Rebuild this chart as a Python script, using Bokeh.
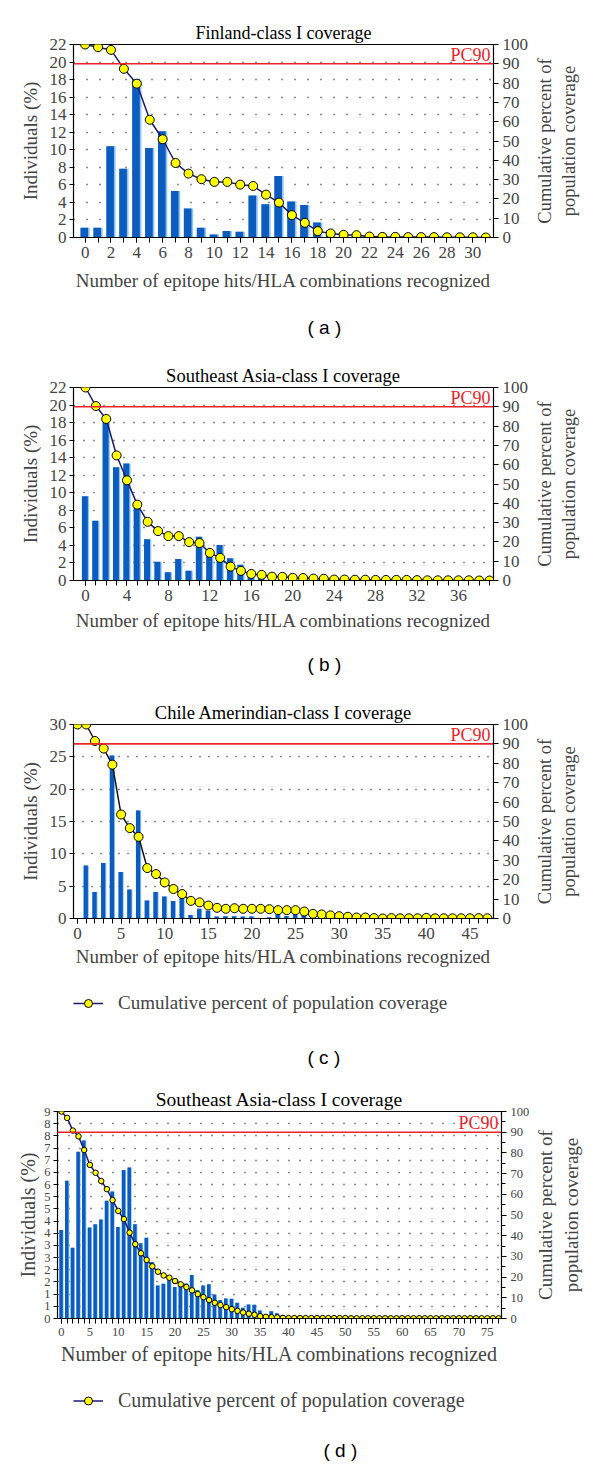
from bokeh.plotting import figure
from bokeh.models import (Range1d, LinearAxis, FixedTicker, Span, Label, Title,
                          Legend, LegendItem, CustomJSTickFormatter)
from bokeh.layouts import column, row
from bokeh.embed import file_html
from bokeh.resources import INLINE

SERIF = "Liberation Serif"
SANS = "Liberation Sans"
BAR_DARK = "#0B5CBE"
BAR_LIGHT = "#8EC5F5"
PC_RED = "#E8242B"
NAVY = "#1B1B6E"
X_LABEL = "Number of epitope hits/HLA combinations recognized"
Y_LABEL = "Individuals (%)"
Y2_LABEL = "Cumulative percent of\npopulation coverage"
LEGEND_LABEL = "Cumulative percent of population coverage"

# ---------------- (a) Finland ----------------
a_title = "Finland-class I coverage"
a_hits = list(range(32))
a_individuals = [1.1, 1.1, 10.4, 7.85, 18.0, 10.2, 12.1, 5.3, 3.3, 1.1,
                 0.35, 0.75, 0.65, 4.8, 3.8, 7.0, 4.1, 3.7, 1.7, 0.8,
                 0.2, 0.12, 0.08, 0.05, 0.05, 0.03, 0.03, 0.02, 0.02, 0.02,
                 0.01, 0.01]
a_cumulative = [100, 98.6, 97.2, 87.4, 79.7, 61.0, 50.9, 38.6, 33.1, 30.2,
                28.8, 28.8, 27.4, 26.7, 22.2, 18.1, 11.6, 7.6, 3.3, 2.1,
                1.4, 1.2, 0.5, 0.3, 0.3, 0.2, 0.2, 0.2, 0.1, 0.1,
                0.1, 0.0]
a_xticks = list(range(0, 31, 2))
a_yticks = list(range(0, 23, 2))

# ---------------- (b) Southeast Asia ----------------
b_title = "Southeast Asia-class I coverage"
b_hits = list(range(40))
b_individuals = [9.6, 6.8, 18.3, 12.9, 13.35, 8.3, 4.7, 2.15, 0.95, 2.45,
                 1.1, 5.0, 2.85, 4.05, 2.55, 1.8, 0.95, 0.55, 0.35, 0.3,
                 0.25, 0.2, 0.15, 0.1, 0.1, 0.1, 0.05, 0.05, 0.05, 0.05,
                 0.03, 0.03, 0.03, 0.02, 0.02, 0.02, 0.01, 0.01, 0.01, 0.01]
b_cumulative = [100, 90.4, 83.7, 64.8, 51.9, 39.3, 30.4, 25.6, 23.0, 23.0,
                19.9, 19.4, 14.3, 11.7, 7.2, 5.0, 3.4, 2.9, 2.0, 1.9,
                1.4, 1.3, 1.0, 0.9, 0.5, 0.5, 0.4, 0.4, 0.3, 0.3,
                0.3, 0.3, 0.2, 0.1, 0.1, 0.1, 0.1, 0.1, 0.0, 0.0]
b_xticks = list(range(0, 37, 4))
b_yticks = list(range(0, 23, 2))

# ---------------- (c) Chile Amerindian ----------------
c_title = "Chile Amerindian-class I coverage"
c_hits = list(range(48))
c_individuals = [0, 8.2, 4.1, 8.6, 25.2, 7.2, 4.5, 16.7, 2.8, 4.1,
                 3.4, 2.7, 3.6, 0.55, 1.5, 1.2, 0.3, 0.35, 0.35, 0.3,
                 0.3, 0.05, 0.2, 0.6, 0.4, 0.6, 1.0, 0.6, 0.3, 0.2,
                 0.15, 0.1, 0.1, 0.05, 0.05, 0.05, 0.03, 0.03, 0.03, 0.03,
                 0.02, 0.02, 0.02, 0.02, 0.02, 0.02, 0.02, 0.02]
c_cumulative = [100, 100, 91.5, 87.6, 79.3, 53.6, 46.6, 42.1, 26.0, 22.9,
                18.6, 15.2, 12.6, 9.1, 8.3, 6.7, 5.5, 5.0, 5.3, 5.0,
                5.0, 5.0, 4.8, 4.3, 4.3, 4.3, 3.6, 2.4, 2.1, 1.6,
                1.2, 0.9, 0.5, 0.5, 0.2, 0.0, 0.2, 0.1, 0.1, 0.1,
                0.3, 0.1, 0.1, 0.1, 0.1, 0.1, 0.2, 0.1]
c_xticks = list(range(0, 46, 5))
c_yticks = list(range(0, 31, 5))

# ---------------- (d) Southeast Asia ----------------
d_title = "Southeast Asia-class I coverage"
d_hits = list(range(78))
d_individuals = [3.63, 5.66, 2.91, 6.85, 7.31, 3.74, 3.87, 4.07, 4.84, 5.22,
                 3.76, 6.1, 6.2, 3.87, 3.09, 3.32, 2.32, 1.36, 1.43, 1.57,
                 1.29, 1.47, 1.44, 1.79, 1.17, 1.36, 1.41, 0.99, 0.76, 0.82,
                 0.81, 0.65, 0.44, 0.58, 0.56, 0.33, 0.16, 0.30, 0.22, 0.14,
                 0.08, 0.10, 0.05, 0.04, 0.04, 0.03, 0.03, 0.03, 0.02, 0.02,
                 0.02, 0.02, 0.02, 0.02, 0.01, 0.01, 0.01, 0.01, 0.01, 0.01,
                 0.01, 0.01, 0.01, 0.01, 0.01, 0.01, 0.01, 0.01, 0.01, 0.01,
                 0.01, 0.01, 0.01, 0.01, 0.01, 0.01, 0.01, 0.01]
d_cumulative = [100, 96.9, 90.8, 88.0, 81.4, 74.2, 70.4, 66.4, 62.5, 57.2,
                52.0, 48.0, 41.5, 35.9, 31.5, 28.3, 25.2, 22.6, 20.8, 19.7,
                18.1, 16.5, 15.2, 13.6, 11.8, 10.3, 8.9, 7.6, 6.5, 5.5,
                4.5, 3.7, 2.9, 2.3, 1.8, 1.1, 0.8, 0.6, 0.5, 0.3,
                0.2, 0.2, 0.2, 0.2, 0.2, 0.2, 0.2, 0.2, 0.2, 0.2,
                0.2, 0.1, 0.1, 0.1, 0.1, 0.1, 0.1, 0.1, 0.1, 0.1,
                0.1, 0.1, 0.1, 0.1, 0.1, 0.1, 0.1, 0.1, 0.1, 0.1,
                0.1, 0.1, 0.1, 0.1, 0.1, 0.1, 0.1, 0.1]
d_xticks = list(range(0, 76, 5))
d_yticks = [i * 0.5 for i in range(18)]

right_ticks = list(range(0, 101, 10))


def caption_title(text, offset, standoff):
    return Title(text=text, align="left", offset=offset, vertical_align="bottom",
                 standoff=standoff, text_font=SANS, text_font_size="19px",
                 text_font_style="normal", text_color="black")


def build(hits, indiv, cum, title, x_start, x_end, y_max, y_ticks, x_ticks,
          frame_w, frame_h, b_left, b_right, b_top, b_bottom,
          tick_fs, label_fs, title_fs, pc_fs, marker, bar_w,
          line_color, dash, caption=None, cap_offset=0, cap_standoff=10,
          round_left=False, right_minor=False, title_standoff=4, xlabel_standoff=9,
          ylabel_standoff=6):
    p = figure(frame_width=frame_w, frame_height=frame_h,
               x_range=Range1d(x_start, x_end), y_range=Range1d(0, y_max),
               min_border_left=b_left, min_border_right=b_right,
               min_border_top=b_top, min_border_bottom=b_bottom,
               output_backend="svg", toolbar_location=None)
    p.extra_y_ranges = {"right": Range1d(0, 100)}
    p.background_fill_color = "white"
    p.border_fill_color = "white"
    p.outline_line_color = "black"
    p.outline_line_width = 1.2

    p.title.text = title
    p.title.align = "center"
    p.title.text_font = SERIF
    p.title.text_font_style = "normal"
    p.title.text_font_size = title_fs
    p.title.text_color = "black"
    p.title.standoff = title_standoff

    p.xgrid.visible = False
    yt = FixedTicker(ticks=y_ticks)
    p.ygrid.ticker = yt
    p.ygrid.grid_line_color = "black"
    p.ygrid.grid_line_dash = dash
    p.ygrid.grid_line_width = 1.6
    p.ygrid.grid_line_alpha = 0.9

    ly = p.yaxis[0]
    ly.ticker = yt
    ly.axis_label = Y_LABEL
    ly.axis_label_text_font = SERIF
    ly.axis_label_text_font_style = "normal"
    ly.axis_label_text_font_size = label_fs
    ly.major_label_text_font = SERIF
    ly.major_label_text_font_size = tick_fs
    ly.major_tick_in = 0
    ly.major_tick_out = 4
    ly.minor_tick_line_color = None
    ly.axis_label_standoff = ylabel_standoff
    ly.major_label_standoff = 3
    ly.axis_line_color = "black"
    if round_left:
        ly.formatter = CustomJSTickFormatter(code="return String(Math.round(tick));")

    bx = p.xaxis[0]
    bx.ticker = FixedTicker(ticks=x_ticks, minor_ticks=hits)
    bx.axis_label = X_LABEL
    bx.axis_label_text_font = SERIF
    bx.axis_label_text_font_style = "normal"
    bx.axis_label_text_font_size = label_fs
    bx.major_label_text_font = SERIF
    bx.major_label_text_font_size = tick_fs
    bx.major_tick_in = 0
    bx.major_tick_out = 5
    bx.minor_tick_in = 0
    bx.minor_tick_out = 5
    bx.major_label_standoff = 4
    bx.axis_label_standoff = xlabel_standoff
    bx.axis_line_color = "black"

    rt = FixedTicker(ticks=right_ticks,
                     minor_ticks=list(range(0, 101, 5)) if right_minor else [])
    ry = LinearAxis(y_range_name="right", ticker=rt)
    ry.major_label_text_font = SERIF
    ry.major_label_text_font_size = tick_fs
    ry.major_tick_in = 0
    ry.major_tick_out = 5
    ry.minor_tick_in = 0
    ry.minor_tick_out = 4
    ry.major_label_standoff = 4
    p.add_layout(ry, "right")

    p.vbar(x=hits, top=indiv, width=bar_w, fill_color=BAR_LIGHT, line_color=None)
    p.vbar(x=[h - bar_w * 0.09 for h in hits], top=indiv, width=bar_w * 0.82,
           fill_color=BAR_DARK, line_color=None)

    p.add_layout(Span(location=90, dimension="width", y_range_name="right",
                      line_color=PC_RED, line_width=1.6))
    p.add_layout(Label(x=x_end, y=90, y_range_name="right", text="PC90",
                       text_align="right", text_baseline="bottom", x_offset=-3,
                       y_offset=-1, text_color=PC_RED, text_font=SERIF,
                       text_font_size=pc_fs))

    p.line(hits, cum, y_range_name="right", line_color=line_color, line_width=1.5)
    p.scatter(hits, cum, y_range_name="right", size=marker, fill_color="#FFFF00",
              line_color="black", line_width=1)

    if caption is not None:
        p.add_layout(caption_title(caption, cap_offset, cap_standoff), "below")
    return p


def side(frame_h, b_top, b_bottom, b_left, width, fs):
    """Narrow strip carrying the right-hand axis title (reads bottom to top)."""
    s = figure(frame_width=1, frame_height=frame_h,
               x_range=Range1d(0, 1), y_range=Range1d(0, 1),
               min_border_left=b_left, min_border_right=width - b_left - 1,
               min_border_top=b_top, min_border_bottom=b_bottom,
               x_axis_location=None, output_backend="svg", toolbar_location=None)
    s.outline_line_color = None
    s.grid.visible = False
    ax = s.yaxis[0]
    ax.ticker = FixedTicker(ticks=[0.5])
    ax.formatter = CustomJSTickFormatter(code="return ''")
    ax.major_tick_line_color = None
    ax.minor_tick_line_color = None
    ax.major_tick_out = 0
    ax.major_tick_in = 0
    ax.minor_tick_out = 0
    ax.minor_tick_in = 0
    ax.major_label_standoff = 0
    ax.axis_line_color = None
    ax.axis_label = Y2_LABEL
    ax.axis_label_standoff = 0
    ax.axis_label_text_font = SERIF
    ax.axis_label_text_font_style = "normal"
    ax.axis_label_text_font_size = fs
    return s


def legend_strip(hits, cum, frame_w, b_left, b_right, frame_h, line_color, marker, fs,
                 caption, cap_offset, cap_standoff, b_bottom):
    # the series is drawn outside the visible range; only its legend entry shows
    lf = figure(frame_width=frame_w, frame_height=frame_h,
                x_range=Range1d(-1000, -999), y_range=Range1d(-1000, -999),
                min_border_left=b_left, min_border_right=b_right,
                min_border_top=0, min_border_bottom=b_bottom,
                x_axis_location=None, y_axis_location=None,
                output_backend="svg", toolbar_location=None)
    lf.outline_line_color = None
    lf.grid.visible = False
    ln = lf.line(hits, cum, line_color=line_color, line_width=1.5)
    sc = lf.scatter(hits, cum, size=marker, fill_color="#FFFF00",
                    line_color="black", line_width=1)
    lg = Legend(items=[LegendItem(label=LEGEND_LABEL, renderers=[ln, sc])],
                location="center_left", orientation="horizontal",
                border_line_color=None, background_fill_alpha=0,
                label_text_font=SERIF, label_text_font_size=fs,
                glyph_width=30, glyph_height=20, label_height=20,
                label_standoff=15, padding=0, margin=0, spacing=0)
    lf.add_layout(lg)
    lf.add_layout(caption_title(caption, cap_offset, cap_standoff), "below")
    return lf


pa = build(a_hits, a_individuals, a_cumulative, a_title, -0.9, 31.6, 22,
           a_yticks, a_xticks, 420, 193, 73, 38, 44, 122,
           "17px", "19px", "18px", "18px", 9, 0.72,
           NAVY, "1 12", caption="( a )", cap_offset=234, cap_standoff=42)
sa = side(193, 44, 122, 46, 69, "18.5px")

pb = build(b_hits, b_individuals, b_cumulative, b_title, -1.16, 39.38, 22,
           b_yticks, b_xticks, 420, 193, 73, 38, 28, 116,
           "17px", "19px", "18.5px", "18px", 9, 0.7,
           NAVY, "1 9", caption="( b )", cap_offset=234, cap_standoff=36,
           xlabel_standoff=6)
sb = side(193, 28, 116, 46, 69, "18.5px")

pc = build(c_hits, c_individuals, c_cumulative, c_title, -0.46, 47.7, 30,
           c_yticks, c_xticks, 420, 194, 73, 38, 28, 56,
           "17px", "19px", "18.5px", "18px", 9, 0.6,
           "#141414", "1 8", xlabel_standoff=4)
sc_ = side(194, 28, 56, 46, 69, "18.5px")
lc = legend_strip(c_hits, c_cumulative, 420, 73, 107, 58, NAVY, 9, "19px",
                  "( c )", 234, 24, 48)

pd_ = build(d_hits, d_individuals, d_cumulative, d_title, -0.7, 77.5, 8.5,
            d_yticks, d_xticks, 444, 207, 57, 30, 31, 51,
            "12.5px", "20px", "19.5px", "18px", 5.5, 0.75,
            NAVY, "1 10", round_left=True, right_minor=True, xlabel_standoff=4,
            ylabel_standoff=2)
sd = side(207, 31, 51, 48, 69, "19px")
ld = legend_strip(d_hits, d_cumulative, 444, 57, 99, 62, NAVY, 6, "20px",
                  "( d )", 250, 12, 41)

layout = column(row(pa, sa), row(pb, sb), row(pc, sc_), lc, row(pd_, sd), ld,
                spacing=0)
open("out.html", "w").write(file_html(layout, INLINE))
